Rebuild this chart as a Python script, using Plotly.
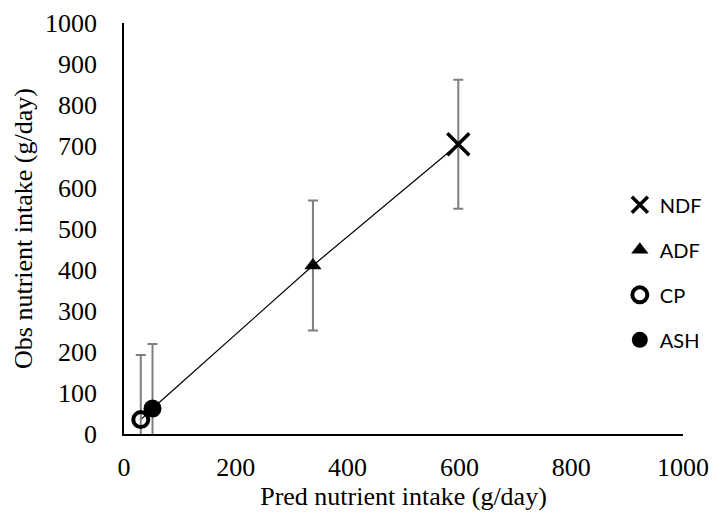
import plotly.graph_objects as go

names = ["NDF", "ADF", "CP", "ASH"]
pred = [598, 338, 30, 51]
obs = [705, 410, 35, 62]
err = [157, 158, 157, 157]
symbols = ["x-thin", "triangle-up", "circle-open", "circle"]
sizes = [22, 15, 15, 18]
linew = [3.5, 0, 4, 0]

fig = go.Figure()

# connecting line through the points (sorted by predicted intake)
order = sorted(range(len(pred)), key=lambda i: pred[i])
fig.add_trace(go.Scatter(
    x=[pred[i] for i in order], y=[obs[i] for i in order],
    mode="lines", line=dict(color="black", width=1.2),
    showlegend=False, hoverinfo="skip"))

for n, px, oy, e, s, sz, lw in zip(names, pred, obs, err, symbols, sizes, linew):
    fig.add_trace(go.Scatter(
        x=[px], y=[oy], mode="markers", name=n, legendgroup=n,
        marker=dict(symbol=s, size=sz, color="black",
                    line=dict(color="black", width=lw)),
        error_y=dict(type="data", array=[e], visible=True,
                     color="#7f7f7f", thickness=2, width=5)))

fig.update_layout(
    width=712, height=521,
    margin=dict(l=124, r=29, t=23, b=87, autoexpand=False),
    plot_bgcolor="white", paper_bgcolor="white",
    font=dict(family="Liberation Serif", size=26, color="black"),
    showlegend=True,
    legend=dict(x=0.887, y=0.605, xanchor="left", yanchor="top",
                font=dict(family="Lato", size=20, color="black"),
                bgcolor="rgba(0,0,0,0)", tracegroupgap=16, itemwidth=30),
)
fig.update_xaxes(range=[0, 1000], dtick=200, showgrid=False, zeroline=False,
                 showline=True, linecolor="black", linewidth=1.5,
                 ticks="", ticklabelstandoff=9, automargin=False,
                 title=dict(text="Pred nutrient intake (g/day)", standoff=6,
                            font=dict(size=26)))
fig.update_yaxes(range=[0, 1000], dtick=100, showgrid=False, zeroline=False,
                 showline=True, linecolor="black", linewidth=1.5,
                 ticks="", ticklabelstandoff=20, automargin=False,
                 title=dict(text="Obs nutrient intake (g/day)", standoff=5,
                            font=dict(size=26)))

fig.write_html("out.html")
